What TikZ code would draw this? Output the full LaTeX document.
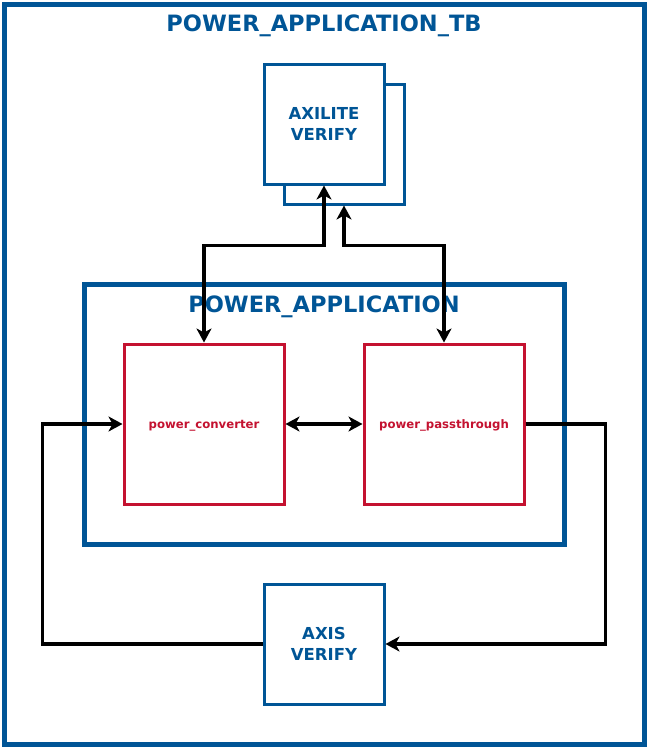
\documentclass[tikz,border=0pt]{standalone}
\usepackage{fontspec}
\setmainfont{DejaVu Sans}
\usetikzlibrary{arrows.meta}
\definecolor{tbblue}{RGB}{0,85,150}
\definecolor{modred}{RGB}{196,18,48}
\tikzset{
  frame/.style={draw=tbblue, line width=5pt},
  vbox/.style={draw=tbblue, line width=3pt, fill=white, minimum width=120pt, minimum height=120pt, inner sep=0pt, align=center, text=tbblue, font=\bfseries\fontsize{16.5}{21}\selectfont},
  mbox/.style={draw=modred, line width=3pt, fill=white, minimum width=160pt, minimum height=160pt, inner sep=0pt, text height=8pt, text depth=0pt, text=modred, font=\bfseries\fontsize{11.7}{14}\selectfont},
  title/.style={text=tbblue, anchor=base, inner sep=0pt},
  conn/.style={draw=black, line width=3.3pt, arrows={-}, >={Stealth[length=14pt,width=15pt,inset=4pt]}},
}
\begin{document}
\begin{tikzpicture}[x=1pt,y=-1pt]
\useasboundingbox (0,0) rectangle (648,748);
\draw[frame] (4,4) rectangle (644,744);
\node[title, font=\bfseries\fontsize{22.5}{27}\selectfont] (tbtitle) at (324,31.7) {POWER\_APPLICATION\_TB};
\draw[frame] (84,284) rectangle (564,544);
\node[title, font=\bfseries\fontsize{22.5}{27}\selectfont] (patitle) at (324,312.5) {POWER\_APPLICATION};
\node[vbox] (axb) at (344,144) {};
\node[vbox] (axf) at (324,124) {AXILITE\\VERIFY};
\node[mbox] (pc) at (204,424) {power\_converter};
\node[mbox] (pp) at (444,424) {power\_passthrough};
\node[vbox] (axis) at (324,644) {AXIS\\VERIFY};
\draw[conn,<->] (axf.south) -- ++(0,60) -| (pc.north);
\draw[conn,<->] (axb.south) -- ++(0,40) -| (pp.north);
\draw[conn,<->] (pc.east) -- (pp.west);
\draw[conn,->] (pp.east) -- ++(80,0) |- (axis.east);
\draw[conn,->] (axis.west) -- ++(-220,0) |- (pc.west);
\end{tikzpicture}
\end{document}
